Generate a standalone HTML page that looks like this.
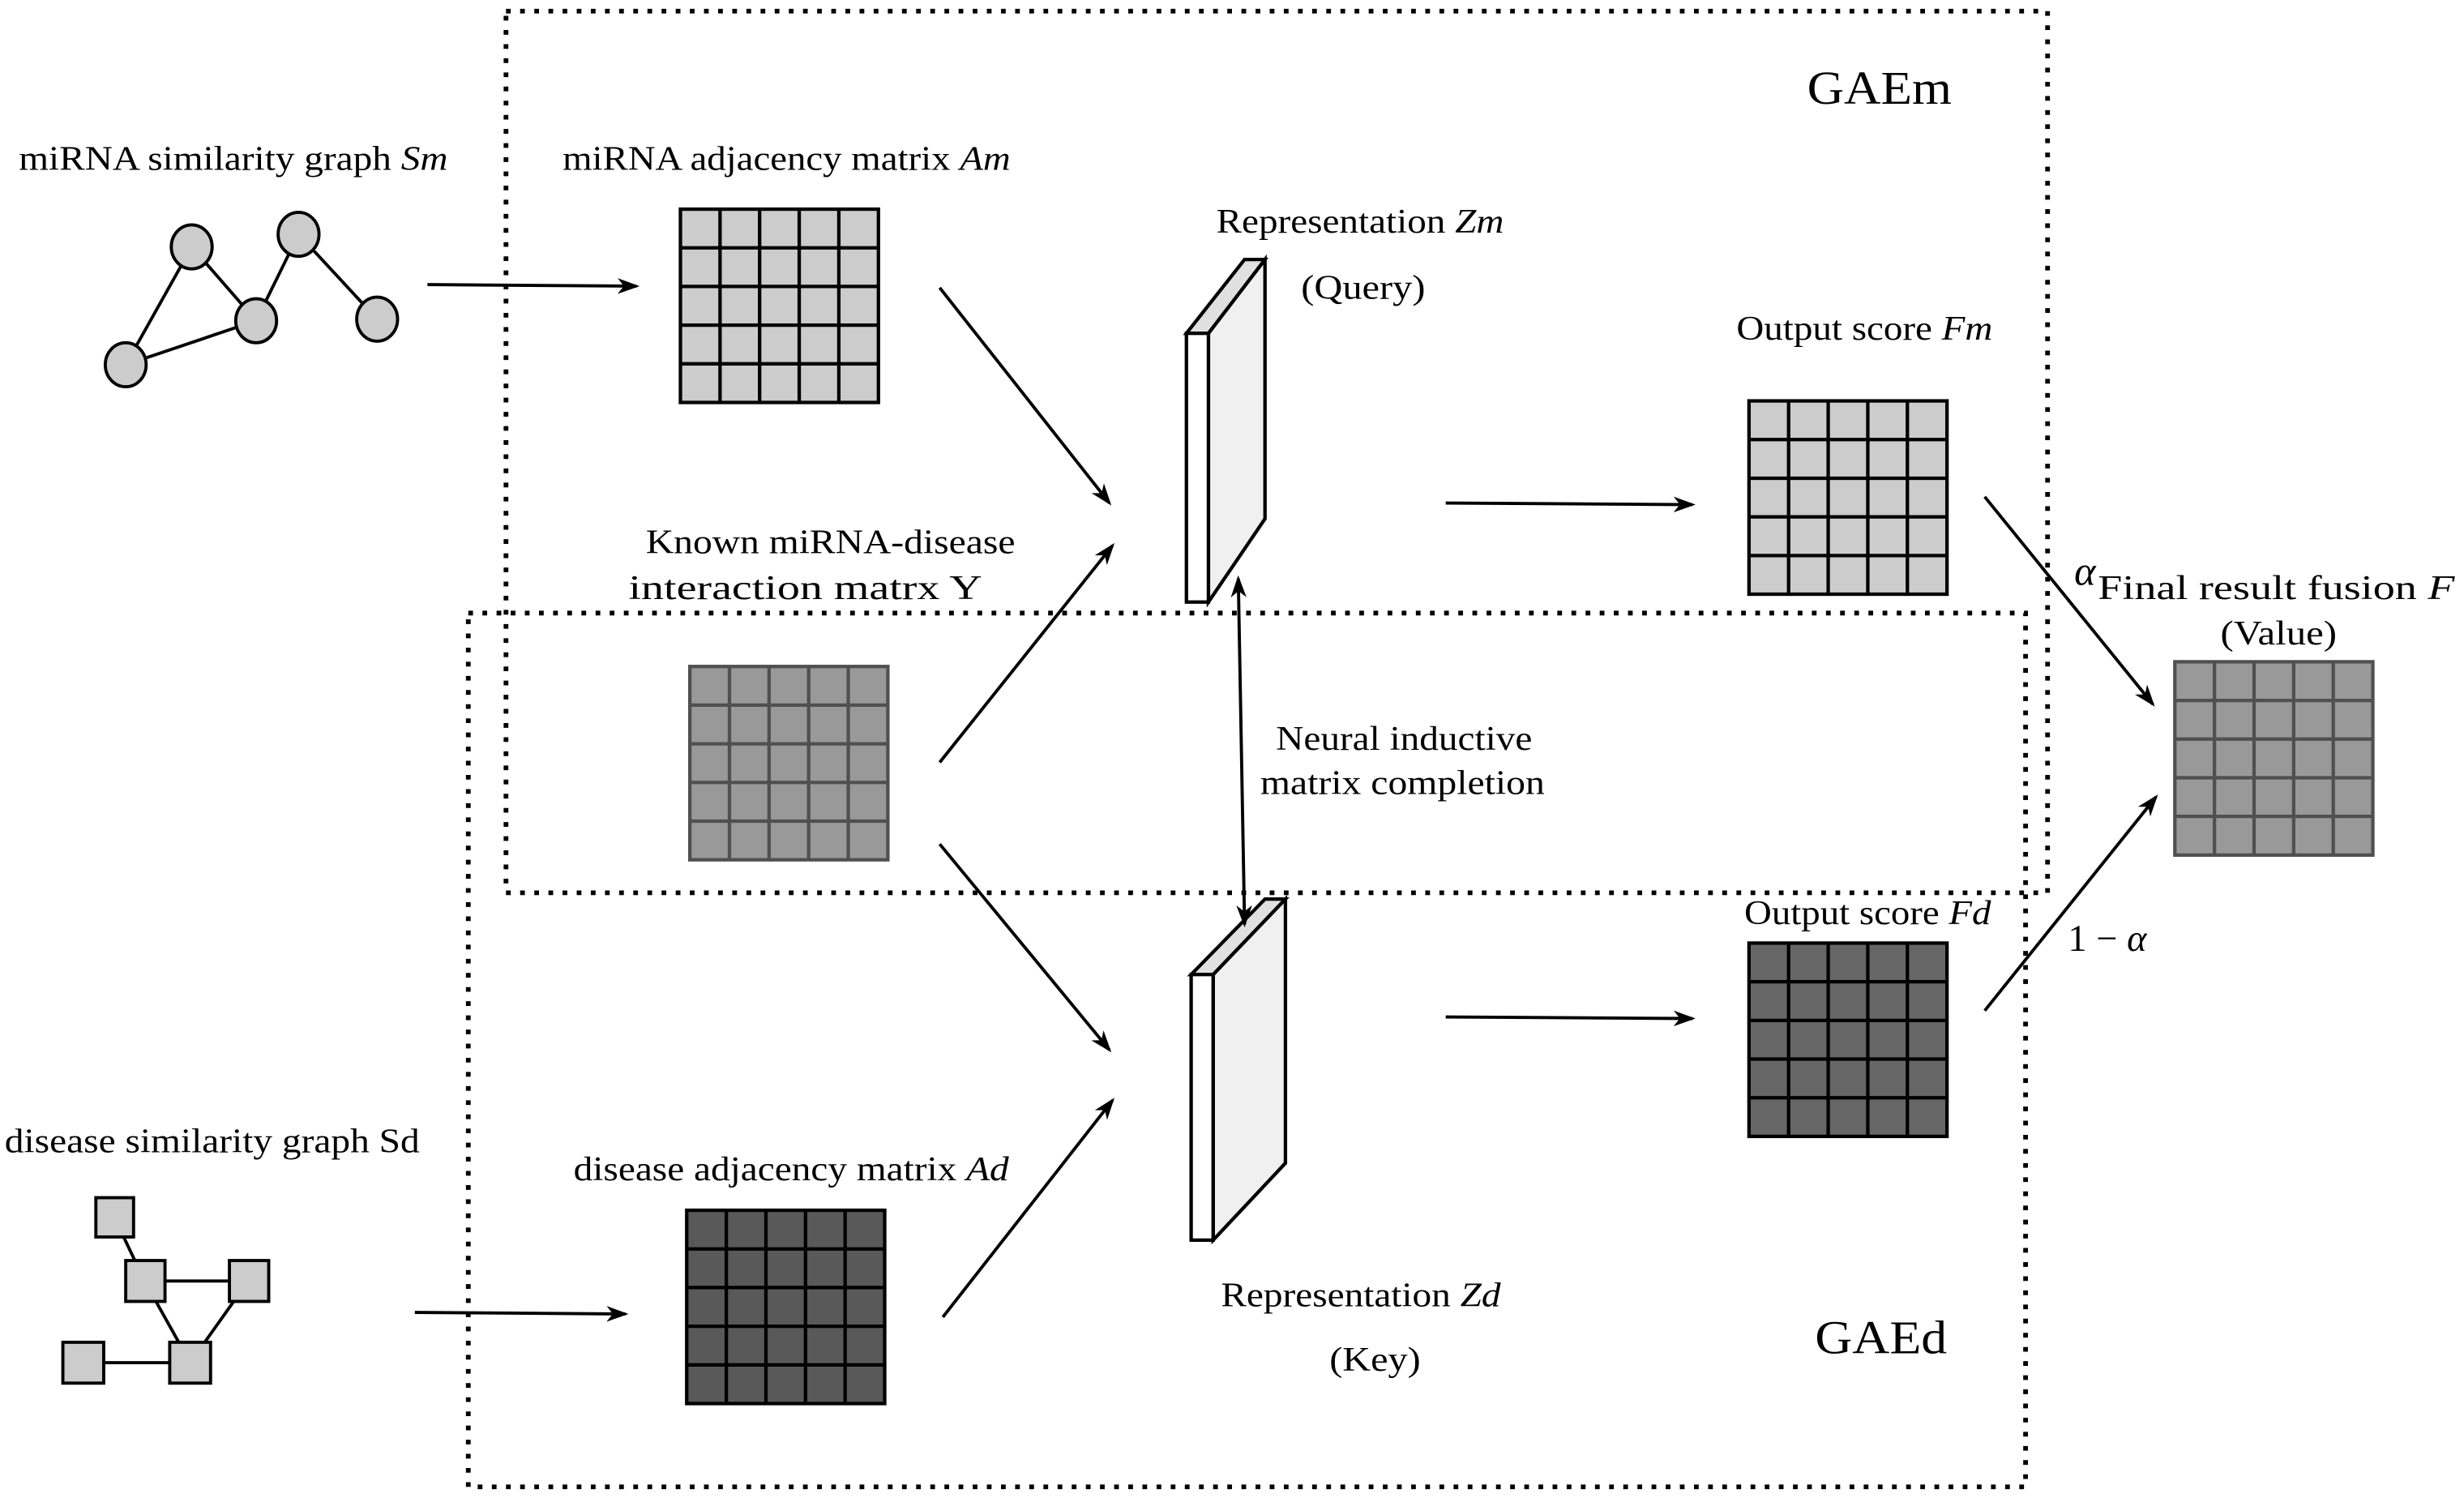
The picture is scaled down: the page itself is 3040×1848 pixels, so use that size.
<!DOCTYPE html>
<html><head><meta charset="utf-8"><style>
html,body{margin:0;padding:0;background:#fff;}
svg{display:block;}
text{font-family:"Liberation Serif","Times New Roman",serif;font-size:22px;fill:#000;}
</style></head><body>
<svg width="3040" height="1848" viewBox="0 0 1568 953" xmlns="http://www.w3.org/2000/svg">
<defs>
<marker id="ah" markerWidth="14" markerHeight="10" refX="12" refY="5" orient="auto" markerUnits="userSpaceOnUse">
<path d="M0,0 L14,5 L0,10 L4,5 Z" fill="#000"/>
</marker>
<marker id="ahs" markerWidth="14" markerHeight="10" refX="2" refY="5" orient="auto" markerUnits="userSpaceOnUse">
<path d="M14,0 L0,5 L14,10 L10,5 Z" fill="#000"/>
</marker>
</defs>
<rect width="1568" height="953" fill="#fff"/>

<g fill="none" stroke="#000" stroke-width="3" stroke-dasharray="3,6">
<rect x="322" y="7" width="981" height="561"/>
<rect x="298" y="390" width="991" height="556"/>
</g>

<g stroke="#000" stroke-width="2">
<line x1="80" y1="232" x2="122" y2="157"/>
<line x1="80" y1="232" x2="163" y2="204"/>
<line x1="122" y1="157" x2="163" y2="204"/>
<line x1="163" y1="204" x2="190" y2="149"/>
<line x1="190" y1="149" x2="240" y2="203"/>
<g fill="#cccccc">
<ellipse cx="122" cy="157" rx="13" ry="14"/>
<ellipse cx="190" cy="149" rx="13" ry="14"/>
<ellipse cx="163" cy="204" rx="13" ry="14"/>
<ellipse cx="240" cy="203" rx="13" ry="14"/>
<ellipse cx="80" cy="232" rx="13" ry="14"/>
</g>
</g>

<g stroke="#000" stroke-width="2">
<line x1="73" y1="775" x2="92" y2="815"/>
<line x1="92" y1="815" x2="158" y2="815"/>
<line x1="92" y1="815" x2="121" y2="867"/>
<line x1="158" y1="815" x2="121" y2="867"/>
<line x1="53" y1="867" x2="121" y2="867"/>
<g fill="#cccccc">
<rect x="61" y="762" width="24" height="25"/>
<rect x="80" y="802" width="25" height="26"/>
<rect x="146" y="802" width="25" height="26"/>
<rect x="40" y="854" width="26" height="26"/>
<rect x="108" y="854" width="26" height="26"/>
</g>
</g>

<g stroke-width="2.2">
<g stroke="#000" fill="#cccccc">
<rect x="433" y="133" width="126" height="123"/>
<path d="M458.2,133V256M483.4,133V256M508.6,133V256M533.8,133V256M433,157.6H559M433,182.2H559M433,206.8H559M433,231.4H559" fill="none"/>
</g>
<g stroke="#505050" fill="#999999">
<rect x="439" y="424" width="126" height="123"/>
<path d="M464.2,424V547M489.4,424V547M514.6,424V547M539.8,424V547M439,448.6H565M439,473.2H565M439,497.8H565M439,522.4H565" fill="none"/>
</g>
<g stroke="#000" fill="#595959">
<rect x="437" y="770" width="126" height="123"/>
<path d="M462.2,770V893M487.4,770V893M512.6,770V893M537.8,770V893M437,794.6H563M437,819.2H563M437,843.8H563M437,868.4H563" fill="none"/>
</g>
<g stroke="#000" fill="#cccccc">
<rect x="1113" y="255" width="126" height="123"/>
<path d="M1138.2,255V378M1163.4,255V378M1188.6,255V378M1213.8,255V378M1113,279.6H1239M1113,304.2H1239M1113,328.8H1239M1113,353.4H1239" fill="none"/>
</g>
<g stroke="#000" fill="#666666">
<rect x="1113" y="600" width="126" height="123"/>
<path d="M1138.2,600V723M1163.4,600V723M1188.6,600V723M1213.8,600V723M1113,624.6H1239M1113,649.2H1239M1113,673.8H1239M1113,698.4H1239" fill="none"/>
</g>
<g stroke="#505050" fill="#999999">
<rect x="1384" y="421" width="126" height="123"/>
<path d="M1409.2,421V544M1434.4,421V544M1459.6,421V544M1484.8,421V544M1384,445.6H1510M1384,470.2H1510M1384,494.8H1510M1384,519.4H1510" fill="none"/>
</g>
</g>

<g stroke="#000" stroke-width="2.2" stroke-linejoin="miter">
<polygon points="769,212 805,165 805,330 769,383" fill="#f0f0f0"/>
<polygon points="755,212 792,165 805,165 769,212" fill="#e0e0e0"/>
<rect x="755" y="212" width="14" height="171" fill="#fff"/>
<polygon points="772,620 818,572 818,740 772,789" fill="#f0f0f0"/>
<polygon points="758,620 805,572 818,572 772,620" fill="#e0e0e0"/>
<rect x="758" y="620" width="14" height="169" fill="#fff"/>
</g>

<g stroke="#000" stroke-width="2" fill="none" marker-end="url(#ah)">
<line x1="272" y1="181" x2="405" y2="182"/>
<line x1="264" y1="835" x2="398" y2="836"/>
<line x1="598" y1="183" x2="706" y2="320"/>
<line x1="598" y1="485" x2="708" y2="347"/>
<line x1="598" y1="537" x2="706" y2="668"/>
<line x1="600" y1="838" x2="708" y2="700"/>
<line x1="920" y1="320" x2="1077" y2="321"/>
<line x1="920" y1="647" x2="1077" y2="648"/>
<line x1="1263" y1="316" x2="1370" y2="448"/>
<line x1="1263" y1="643" x2="1372" y2="507"/>
<line x1="788" y1="368" x2="792" y2="588" marker-start="url(#ahs)"/>
</g>

<text x="12" y="108" textLength="273" lengthAdjust="spacingAndGlyphs">miRNA similarity graph <tspan font-style="italic">Sm</tspan></text>
<text x="358" y="108" textLength="285" lengthAdjust="spacingAndGlyphs">miRNA adjacency matrix <tspan font-style="italic">Am</tspan></text>
<text x="774" y="148" textLength="183" lengthAdjust="spacingAndGlyphs">Representation <tspan font-style="italic">Zm</tspan></text>
<text x="828" y="190" textLength="79" lengthAdjust="spacingAndGlyphs">(Query)</text>
<text x="1105" y="216" textLength="163" lengthAdjust="spacingAndGlyphs">Output score <tspan font-style="italic">Fm</tspan></text>
<text x="411" y="352" textLength="235" lengthAdjust="spacingAndGlyphs">Known miRNA-disease</text>
<text x="400" y="381" textLength="225" lengthAdjust="spacingAndGlyphs">interaction matrx Y</text>
<text x="812" y="477" textLength="163" lengthAdjust="spacingAndGlyphs">Neural inductive</text>
<text x="802" y="505" textLength="181" lengthAdjust="spacingAndGlyphs">matrix completion</text>
<text x="1335" y="381" textLength="227" lengthAdjust="spacingAndGlyphs">Final result fusion <tspan font-style="italic">F</tspan></text>
<text x="1413" y="410" textLength="74" lengthAdjust="spacingAndGlyphs">(Value)</text>
<text x="1110" y="588" textLength="157" lengthAdjust="spacingAndGlyphs">Output score <tspan font-style="italic">Fd</tspan></text>
<text x="3" y="733" textLength="264" lengthAdjust="spacingAndGlyphs">disease similarity graph Sd</text>
<text x="365" y="751" textLength="277" lengthAdjust="spacingAndGlyphs">disease adjacency matrix <tspan font-style="italic">Ad</tspan></text>
<text x="777" y="831" textLength="178" lengthAdjust="spacingAndGlyphs">Representation <tspan font-style="italic">Zd</tspan></text>
<text x="846" y="872" textLength="58" lengthAdjust="spacingAndGlyphs">(Key)</text>
<text x="1150" y="66" style="font-size:30px" textLength="92" lengthAdjust="spacingAndGlyphs">GAEm</text>
<text x="1155" y="861" style="font-size:30px" textLength="84" lengthAdjust="spacingAndGlyphs">GAEd</text>
<text x="1320" y="372" style="font-size:26px" font-style="italic">α</text>
<text x="1316" y="605" style="font-size:24px">1 − <tspan font-style="italic">α</tspan></text>
</svg>
</body></html>
